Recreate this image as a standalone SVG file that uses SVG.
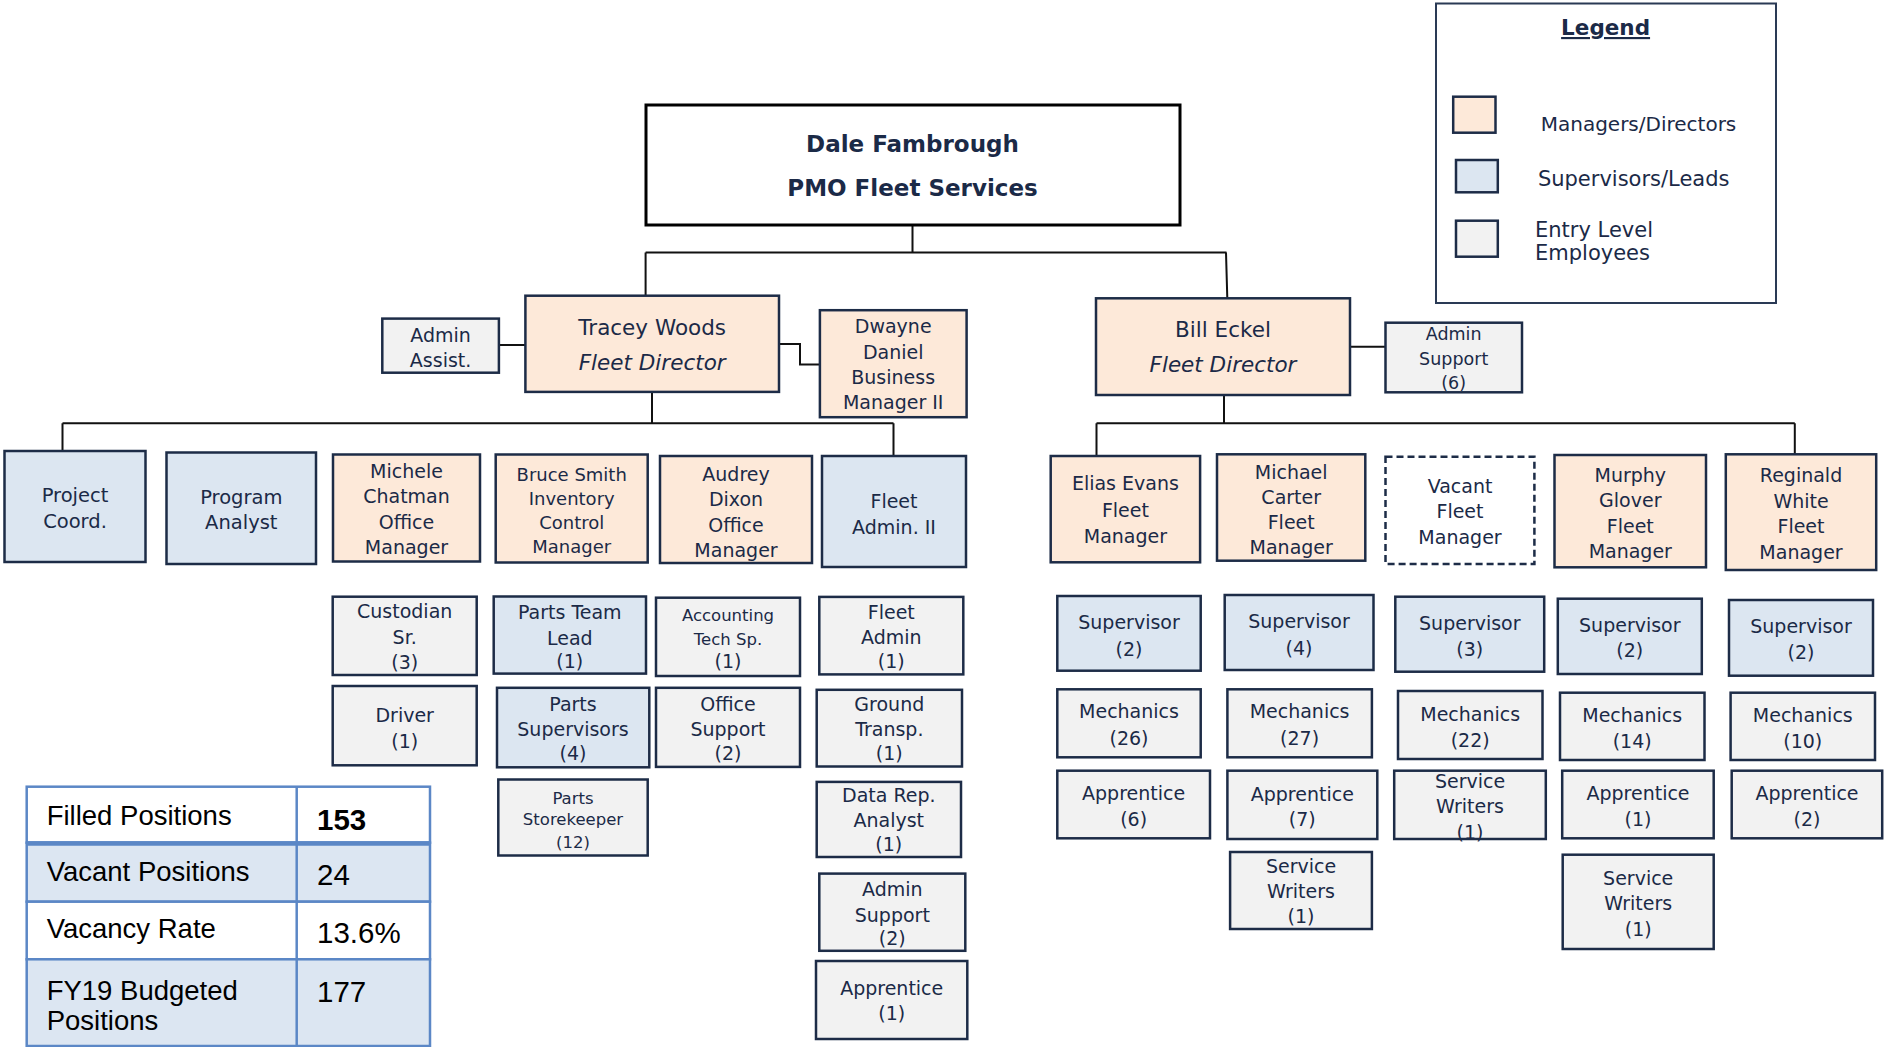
<svg xmlns="http://www.w3.org/2000/svg" width="1885" height="1047" viewBox="0 0 1885 1047">
<defs>
<style>
.box{stroke:#1d2c47;stroke-width:2.5}
.pe{fill:#fde9d9}
.bl{fill:#dce6f1}
.gr{fill:#f2f2f2}
.va{fill:#ffffff;stroke-dasharray:7 4}
.t{font-family:"DejaVu Sans",Verdana,sans-serif;font-size:19px;fill:#1b2a47;text-anchor:middle}
.s{font-size:16.5px}
.m{font-size:17.5px}
.d{font-size:21.5px}
.i{font-style:italic}
.conn{stroke:#111111;stroke-width:2;fill:none}
.lg{font-family:"DejaVu Sans",Verdana,sans-serif;font-size:20.5px;fill:#1b2a47}
.tb{font-family:"Liberation Sans",Arial,sans-serif;font-size:27.5px;fill:#000000}
.tv{font-family:"Liberation Sans",Arial,sans-serif;font-size:29.5px;fill:#000000}
.cell{stroke:#5b87c6;stroke-width:2.5}
</style>
</defs>
<rect x="0" y="0" width="1885" height="1047" fill="#ffffff"/>

<g id="connectors" class="conn">
<path d="M912.5,224.8 V252.5 M645.6,252.5 H1226.5 M645.6,252.5 V295.7 M1226,252.5 L1227.3,298.3"/>
<path d="M498.9,345 H525.4"/>
<path d="M779,344 H800 V364.5 H820"/>
<path d="M652,392 V423.2 M62.5,423.2 H893.5 M62.5,423.2 V451 M893.5,423.2 V456"/>
<path d="M1350,346.7 H1385.5"/>
<path d="M1224,395 V423.3 M1096.5,423.3 H1794.8 M1096.5,423.3 V456 M1794.8,423.3 V454.3"/>
</g>

<g id="dale">
<rect x="646" y="105" width="534" height="120" fill="#ffffff" stroke="#000000" stroke-width="3"/>
<text class="t" style="font-weight:bold;font-size:23px"><tspan x="912.5" y="152">Dale Fambrough</tspan><tspan x="912.5" y="196">PMO Fleet Services</tspan></text>
</g>

<g id="tracey">
<rect class="box pe" x="525.4" y="295.7" width="253.6" height="96.2"/>
<text class="t d"><tspan x="652.2" y="335">Tracey Woods</tspan><tspan x="652.2" y="369.5" class="i">Fleet Director</tspan></text>
</g>
<g id="admin-assist">
<rect class="box gr" x="382.3" y="318.6" width="116.6" height="54.1"/>
<text class="t"><tspan x="440.6" y="341.5">Admin</tspan><tspan x="440.6" y="366.5">Assist.</tspan></text>
</g>
<g id="dwayne">
<rect class="box pe" x="819.9" y="310.2" width="146.7" height="107"/>
<text class="t"><tspan x="893.2" y="333">Dwayne</tspan><tspan x="893.2" y="358.5">Daniel</tspan><tspan x="893.2" y="384">Business</tspan><tspan x="893.2" y="409">Manager II</tspan></text>
</g>
<g id="bill">
<rect class="box pe" x="1096" y="298.3" width="254" height="96.7"/>
<text class="t d"><tspan x="1223" y="337">Bill Eckel</tspan><tspan x="1223" y="371.5" class="i">Fleet Director</tspan></text>
</g>
<g id="admin-support-6">
<rect class="box gr" x="1385.5" y="322.7" width="136.5" height="69.6"/>
<text class="t m"><tspan x="1453.7" y="340">Admin</tspan><tspan x="1453.7" y="365">Support</tspan><tspan x="1453.7" y="389">(6)</tspan></text>
</g>

<g id="project-coord">
<rect class="box bl" x="4.5" y="451" width="141" height="111"/>
<text class="t" style="font-size:19.5px"><tspan x="75" y="501.7">Project</tspan><tspan x="75" y="528">Coord.</tspan></text>
</g>
<g id="program-analyst">
<rect class="box bl" x="166.5" y="452.5" width="149.5" height="111.5"/>
<text class="t" style="font-size:19.5px"><tspan x="241.3" y="504">Program</tspan><tspan x="241.3" y="529">Analyst</tspan></text>
</g>
<g id="michele">
<rect class="box pe" x="333" y="454.5" width="147" height="107"/>
<text class="t"><tspan x="406.5" y="478.3">Michele</tspan><tspan x="406.5" y="503.3">Chatman</tspan><tspan x="406.5" y="529">Office</tspan><tspan x="406.5" y="554.3">Manager</tspan></text>
</g>
<g id="bruce">
<rect class="box pe" x="495.7" y="454.5" width="152" height="108"/>
<text class="t" style="font-size:18px"><tspan x="571.7" y="480.6">Bruce Smith</tspan><tspan x="571.7" y="505">Inventory</tspan><tspan x="571.7" y="529">Control</tspan><tspan x="571.7" y="553.4">Manager</tspan></text>
</g>
<g id="audrey">
<rect class="box pe" x="660" y="456" width="152" height="107"/>
<text class="t"><tspan x="736" y="481.4">Audrey</tspan><tspan x="736" y="506">Dixon</tspan><tspan x="736" y="532">Office</tspan><tspan x="736" y="557.3">Manager</tspan></text>
</g>
<g id="fleet-admin-2">
<rect class="box bl" x="822" y="456" width="144" height="111"/>
<text class="t"><tspan x="894" y="507.5">Fleet</tspan><tspan x="894" y="533.6">Admin. II</tspan></text>
</g>

<g id="custodian">
<rect class="box gr" x="332.7" y="596.7" width="144" height="78.3"/>
<text class="t"><tspan x="404.7" y="618.3">Custodian</tspan><tspan x="404.7" y="644">Sr.</tspan><tspan x="404.7" y="669">(3)</tspan></text>
</g>
<g id="driver">
<rect class="box gr" x="332.7" y="686" width="144" height="79.3"/>
<text class="t"><tspan x="404.7" y="721.7">Driver</tspan><tspan x="404.7" y="748.3">(1)</tspan></text>
</g>
<g id="parts-team-lead">
<rect class="box bl" x="493.7" y="596.5" width="152.3" height="77.1"/>
<text class="t"><tspan x="569.8" y="619">Parts Team</tspan><tspan x="569.8" y="644.7">Lead</tspan><tspan x="569.8" y="668">(1)</tspan></text>
</g>
<g id="parts-supervisors">
<rect class="box bl" x="497" y="687.8" width="152.3" height="79.5"/>
<text class="t"><tspan x="573" y="710.7">Parts</tspan><tspan x="573" y="736.4">Supervisors</tspan><tspan x="573" y="760">(4)</tspan></text>
</g>
<g id="parts-storekeeper">
<rect class="box gr" x="498.3" y="779.5" width="149.4" height="76"/>
<text class="t" style="font-size:16.5px"><tspan x="573" y="803.7">Parts</tspan><tspan x="573" y="825.4">Storekeeper</tspan><tspan x="573" y="848">(12)</tspan></text>
</g>
<g id="accounting-tech">
<rect class="box gr" x="656" y="597.7" width="144" height="78.3"/>
<text class="t"><tspan x="728" y="620.6" class="s">Accounting</tspan><tspan x="728" y="644.7" class="s">Tech Sp.</tspan><tspan x="728" y="668">(1)</tspan></text>
</g>
<g id="office-support">
<rect class="box gr" x="656" y="687.8" width="144" height="79.1"/>
<text class="t"><tspan x="728" y="710.7">Office</tspan><tspan x="728" y="735.7">Support</tspan><tspan x="728" y="760">(2)</tspan></text>
</g>
<g id="fleet-admin">
<rect class="box gr" x="819.3" y="596.9" width="144" height="77.5"/>
<text class="t"><tspan x="891.3" y="618.6">Fleet</tspan><tspan x="891.3" y="644.3">Admin</tspan><tspan x="891.3" y="668">(1)</tspan></text>
</g>
<g id="ground-transp">
<rect class="box gr" x="816.7" y="689.8" width="145.3" height="76.7"/>
<text class="t"><tspan x="889.3" y="710.7">Ground</tspan><tspan x="889.3" y="736.4">Transp.</tspan><tspan x="889.3" y="760">(1)</tspan></text>
</g>
<g id="data-rep">
<rect class="box gr" x="816.7" y="781.9" width="144.3" height="75.1"/>
<text class="t"><tspan x="888.8" y="801.7">Data Rep.</tspan><tspan x="888.8" y="827.4">Analyst</tspan><tspan x="888.8" y="851">(1)</tspan></text>
</g>
<g id="admin-support-2">
<rect class="box gr" x="819.3" y="873.6" width="146" height="77.2"/>
<text class="t"><tspan x="892.3" y="895.8">Admin</tspan><tspan x="892.3" y="921.5">Support</tspan><tspan x="892.3" y="945">(2)</tspan></text>
</g>
<g id="apprentice-left">
<rect class="box gr" x="816" y="961" width="151.3" height="78"/>
<text class="t"><tspan x="891.7" y="995.4">Apprentice</tspan><tspan x="891.7" y="1020">(1)</tspan></text>
</g>

<g id="elias">
<rect class="box pe" x="1050.7" y="456" width="149.4" height="106.3"/>
<text class="t"><tspan x="1125.4" y="490">Elias Evans</tspan><tspan x="1125.4" y="516.5">Fleet</tspan><tspan x="1125.4" y="543">Manager</tspan></text>
</g>
<g id="michael">
<rect class="box pe" x="1217" y="454.3" width="148.3" height="106.4"/>
<text class="t"><tspan x="1291.2" y="478.5">Michael</tspan><tspan x="1291.2" y="503.5">Carter</tspan><tspan x="1291.2" y="528.5">Fleet</tspan><tspan x="1291.2" y="553.5">Manager</tspan></text>
</g>
<g id="vacant">
<rect class="box va" x="1385.5" y="456.7" width="148.9" height="107.3"/>
<text class="t"><tspan x="1460" y="492.5">Vacant</tspan><tspan x="1460" y="518">Fleet</tspan><tspan x="1460" y="544">Manager</tspan></text>
</g>
<g id="murphy">
<rect class="box pe" x="1554.5" y="455" width="151.5" height="112.3"/>
<text class="t"><tspan x="1630.3" y="481.5">Murphy</tspan><tspan x="1630.3" y="507">Glover</tspan><tspan x="1630.3" y="533">Fleet</tspan><tspan x="1630.3" y="558">Manager</tspan></text>
</g>
<g id="reginald">
<rect class="box pe" x="1725.8" y="454.3" width="150.4" height="115.7"/>
<text class="t"><tspan x="1801" y="481.5">Reginald</tspan><tspan x="1801" y="507.5">White</tspan><tspan x="1801" y="533">Fleet</tspan><tspan x="1801" y="559">Manager</tspan></text>
</g>

<g id="supervisor-1">
<rect class="box bl" x="1057.3" y="596" width="143.4" height="74.7"/>
<text class="t"><tspan x="1129" y="629">Supervisor</tspan><tspan x="1129" y="655.5">(2)</tspan></text>
</g>
<g id="supervisor-2">
<rect class="box bl" x="1224.7" y="595" width="148.8" height="75"/>
<text class="t"><tspan x="1299" y="628">Supervisor</tspan><tspan x="1299" y="654.5">(4)</tspan></text>
</g>
<g id="supervisor-3">
<rect class="box bl" x="1395.3" y="596.7" width="148.9" height="75"/>
<text class="t"><tspan x="1469.8" y="629.5">Supervisor</tspan><tspan x="1469.8" y="655.5">(3)</tspan></text>
</g>
<g id="supervisor-4">
<rect class="box bl" x="1557.8" y="598.7" width="144" height="75.3"/>
<text class="t"><tspan x="1629.8" y="631.5">Supervisor</tspan><tspan x="1629.8" y="657">(2)</tspan></text>
</g>
<g id="supervisor-5">
<rect class="box bl" x="1729" y="600" width="144" height="75.7"/>
<text class="t"><tspan x="1801" y="632.5">Supervisor</tspan><tspan x="1801" y="659">(2)</tspan></text>
</g>

<g id="mechanics-1">
<rect class="box gr" x="1057.3" y="689.3" width="143.4" height="68"/>
<text class="t"><tspan x="1129" y="718">Mechanics</tspan><tspan x="1129" y="744.5">(26)</tspan></text>
</g>
<g id="mechanics-2">
<rect class="box gr" x="1227.4" y="689.3" width="144.5" height="68"/>
<text class="t"><tspan x="1299.6" y="718">Mechanics</tspan><tspan x="1299.6" y="744.5">(27)</tspan></text>
</g>
<g id="mechanics-3">
<rect class="box gr" x="1398" y="691" width="144.5" height="68"/>
<text class="t"><tspan x="1470.2" y="720.5">Mechanics</tspan><tspan x="1470.2" y="746.5">(22)</tspan></text>
</g>
<g id="mechanics-4">
<rect class="box gr" x="1560" y="692.7" width="144.5" height="67.3"/>
<text class="t"><tspan x="1632.2" y="721.5">Mechanics</tspan><tspan x="1632.2" y="748">(14)</tspan></text>
</g>
<g id="mechanics-5">
<rect class="box gr" x="1730.6" y="692.7" width="144.4" height="67.3"/>
<text class="t"><tspan x="1802.8" y="721.5">Mechanics</tspan><tspan x="1802.8" y="748">(10)</tspan></text>
</g>

<g id="apprentice-1">
<rect class="box gr" x="1057.3" y="770.7" width="152.7" height="67.6"/>
<text class="t"><tspan x="1133.6" y="799.5">Apprentice</tspan><tspan x="1133.6" y="825.5">(6)</tspan></text>
</g>
<g id="apprentice-2">
<rect class="box gr" x="1227.4" y="770.7" width="149.9" height="68.3"/>
<text class="t"><tspan x="1302.3" y="800.5">Apprentice</tspan><tspan x="1302.3" y="825.5">(7)</tspan></text>
</g>
<g id="service-writers-3">
<rect class="box gr" x="1394.2" y="770.7" width="151.6" height="68.3"/>
<text class="t"><tspan x="1470" y="788">Service</tspan><tspan x="1470" y="813">Writers</tspan><tspan x="1470" y="839">(1)</tspan></text>
</g>
<g id="apprentice-4">
<rect class="box gr" x="1562.2" y="770.7" width="151.5" height="67.6"/>
<text class="t"><tspan x="1638" y="799.5">Apprentice</tspan><tspan x="1638" y="825.5">(1)</tspan></text>
</g>
<g id="apprentice-5">
<rect class="box gr" x="1731.7" y="770.7" width="150.5" height="67.6"/>
<text class="t"><tspan x="1807" y="799.5">Apprentice</tspan><tspan x="1807" y="825.5">(2)</tspan></text>
</g>
<g id="service-writers-2">
<rect class="box gr" x="1230.1" y="852" width="141.8" height="77"/>
<text class="t"><tspan x="1301" y="872.5">Service</tspan><tspan x="1301" y="898">Writers</tspan><tspan x="1301" y="923">(1)</tspan></text>
</g>
<g id="service-writers-4">
<rect class="box gr" x="1562.7" y="854.7" width="151" height="94.3"/>
<text class="t"><tspan x="1638.2" y="884.5">Service</tspan><tspan x="1638.2" y="909.5">Writers</tspan><tspan x="1638.2" y="936">(1)</tspan></text>
</g>

<g id="legend">
<rect x="1436" y="3.5" width="340" height="299.5" fill="#ffffff" stroke="#2a3a55" stroke-width="2"/>
<text class="lg" x="1605.6" y="35" text-anchor="middle" style="font-weight:bold;font-size:21.5px;text-decoration:underline">Legend</text>
<rect class="box pe" x="1453.2" y="96.7" width="42.3" height="36" stroke-width="2"/>
<rect class="box bl" x="1456" y="160" width="41.8" height="32.3" stroke-width="2"/>
<rect class="box gr" x="1456" y="220.7" width="41.8" height="36" stroke-width="2"/>
<text class="lg" x="1540.7" y="130.7" style="font-size:20px">Managers/Directors</text>
<text class="lg" x="1537.9" y="185.7" style="font-size:21px">Supervisors/Leads</text>
<text class="lg" style="font-size:21px"><tspan x="1535" y="236.7">Entry Level</tspan><tspan x="1535" y="260">Employees</tspan></text>
</g>

<g id="stats-table">
<rect class="cell" x="26.7" y="786.7" width="403.3" height="56" fill="#ffffff"/>
<rect class="cell" x="26.7" y="842.7" width="403.3" height="59" fill="#dce6f2"/>
<rect class="cell" x="26.7" y="901.7" width="403.3" height="57.6" fill="#ffffff"/>
<rect class="cell" x="26.7" y="959.3" width="403.3" height="86.7" fill="#dce6f2"/>
<line x1="296.7" y1="786.7" x2="296.7" y2="1046" stroke="#5b87c6" stroke-width="2.5"/>
<line x1="26.7" y1="843.5" x2="430" y2="843.5" stroke="#5b87c6" stroke-width="4.5"/>
<text class="tb" x="46.7" y="825">Filled Positions</text>
<text class="tv" x="317" y="830" font-weight="bold">153</text>
<text class="tb" x="46.7" y="881">Vacant Positions</text>
<text class="tv" x="317" y="885">24</text>
<text class="tb" x="46.7" y="937.7">Vacancy Rate</text>
<text class="tv" x="317" y="942.7">13.6%</text>
<text class="tb"><tspan x="46.7" y="1000">FY19 Budgeted</tspan><tspan x="46.7" y="1030">Positions</tspan></text>
<text class="tv" x="317" y="1001.7">177</text>
</g>
</svg>
